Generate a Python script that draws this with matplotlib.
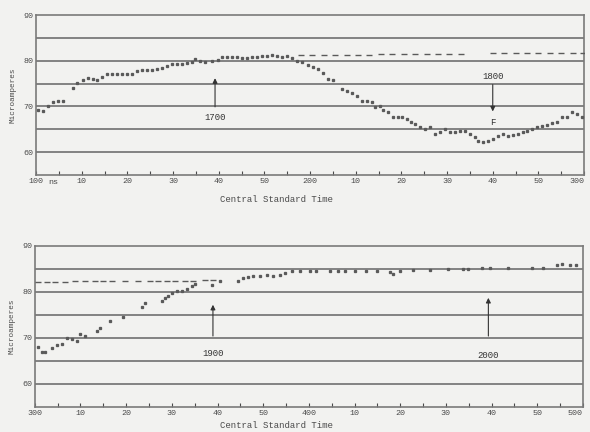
import matplotlib
matplotlib.use("Agg")
import matplotlib.pyplot as plt
from matplotlib.ticker import MultipleLocator

# ---------------- data ----------------
# minutes after the left-hand hour of each panel; values in microamperes
top_min = [0.4, 1.5, 2.6, 3.7, 4.8, 5.9, 8.1, 9.0, 10.3, 11.4, 12.5, 13.4, 14.5, 15.5,
           16.6, 17.7, 18.8, 19.9, 21.0, 22.1, 23.2, 24.3, 25.4, 26.5, 27.6, 28.7, 29.8,
           30.9, 32.0, 33.1, 34.2, 34.8, 35.9, 37.0, 38.5, 39.9, 40.7, 41.8, 42.9, 44.0,
           45.1, 46.2, 47.3, 48.4, 49.5, 50.6, 51.7, 52.8, 53.9, 55.0, 56.1, 57.1, 58.2,
           59.6, 60.7, 61.7, 62.8, 63.9, 65.0, 67.0, 68.1, 69.2, 70.3, 71.4, 72.5, 73.6,
           74.2, 75.3, 76.0, 77.1, 78.2, 79.3, 80.1, 81.2, 82.1, 83.0, 84.1, 85.2, 86.3,
           87.4, 88.5, 89.6, 90.7, 91.7, 92.8, 93.9, 95.0, 96.1, 96.8, 97.9, 99.0, 100.1,
           101.2, 102.3, 103.3, 104.4, 105.5, 106.6, 107.5, 108.6, 109.7, 110.8, 111.9,
           113.0, 114.1, 115.2, 116.3, 117.4, 118.5, 119.6]
top_val = [69.3, 68.9, 70.0, 70.9, 71.3, 71.3, 74.1, 75.2, 75.9, 76.3, 76.1, 75.9, 76.5, 77.0,
           77.2, 77.2, 77.2, 77.0, 77.0, 77.8, 78.0, 78.0, 78.0, 78.3, 78.5, 78.9, 79.3,
           79.3, 79.3, 79.6, 79.8, 80.4, 80.0, 79.8, 80.0, 80.2, 80.9, 80.9, 80.9, 80.9,
           80.6, 80.6, 80.9, 80.9, 81.1, 81.1, 81.3, 81.1, 80.9, 81.1, 80.6, 80.0, 79.8,
           79.1, 78.7, 78.3, 77.4, 76.1, 75.7, 73.9, 73.3, 73.0, 72.2, 71.1, 71.1, 70.9,
           69.8, 70.0, 69.3, 68.7, 67.8, 67.8, 67.6, 67.2, 66.7, 66.1, 65.4, 65.0, 65.4,
           63.9, 64.3, 65.0, 64.3, 64.3, 64.6, 64.6, 63.9, 63.3, 62.4, 62.2, 62.4, 62.8,
           63.5, 63.9, 63.5, 63.7, 63.9, 64.3, 64.6, 65.0, 65.4, 65.7, 65.9,
           66.3, 66.7, 67.6, 67.8, 68.7, 68.3, 67.8]

top_ref_min = [58.0, 60.5, 63.0, 65.5, 68.0, 70.5, 73.0, 75.5, 78.0, 80.5, 83.0, 85.5,
               88.0, 90.5, 93.0, 100.0, 102.5, 105.0, 107.5, 110.0, 112.5, 115.0, 117.5, 119.8]
top_ref_val = [81.2, 81.2, 81.2, 81.3, 81.3, 81.3, 81.3, 81.4, 81.4, 81.4, 81.4, 81.4,
               81.5, 81.5, 81.5, 81.6, 81.6, 81.6, 81.7, 81.7, 81.7, 81.7, 81.7, 81.7]

bot_min = [0.7, 1.5, 2.2, 3.7, 4.8, 5.9, 7.0, 8.1, 9.2, 9.9, 10.9, 13.6, 14.2, 16.4, 19.3,
           23.4, 24.1, 27.8, 28.5, 29.1, 30.0, 31.1, 32.2, 33.3, 34.4, 35.0, 38.8, 40.5,
           44.4, 45.5, 46.6, 47.7, 49.3, 50.8, 52.1, 53.6, 54.7, 56.3, 58.0, 60.2, 61.5,
           64.6, 66.3, 67.9, 70.0, 72.5, 75.0, 77.7, 78.4, 79.9, 82.8, 86.5, 90.4, 93.7,
           94.8, 97.9, 99.6, 103.6, 108.8, 111.2, 114.3, 115.4, 117.1, 118.5]
bot_val = [68.0, 67.0, 67.0, 67.8, 68.5, 68.7, 70.0, 69.8, 69.3, 70.9, 70.4, 71.5, 72.2, 73.7,
           74.6, 76.7, 77.6, 78.0, 78.7, 79.1, 79.8, 80.2, 80.2, 80.7, 81.3, 81.7, 81.5,
           82.4, 82.4, 83.0, 83.3, 83.5, 83.5, 83.7, 83.5, 83.7, 84.1, 84.6, 84.6, 84.6,
           84.6, 84.6, 84.6, 84.6, 84.5, 84.5, 84.5, 84.3, 83.9, 84.6, 84.8, 84.8, 85.0,
           85.0, 85.0, 85.2, 85.2, 85.2, 85.2, 85.2, 85.9, 86.1, 85.9, 85.9]

bot_ref_min = [0.7, 2.6, 4.4, 6.6, 8.8, 10.9, 13.1, 14.9, 16.8, 19.7, 22.6, 25.2, 26.9,
               28.9, 30.7, 32.8, 34.6, 37.2, 39.0]
bot_ref_val = [82.1, 82.2, 82.2, 82.2, 82.3, 82.3, 82.3, 82.3, 82.3, 82.3, 82.4, 82.4, 82.4,
               82.4, 82.4, 82.4, 82.4, 82.5, 82.5]

top_xlabels = ["100", "10", "20", "30", "40", "50", "200", "10", "20", "30", "40", "50", "300"]
bot_xlabels = ["300", "10", "20", "30", "40", "50", "400", "10", "20", "30", "40", "50", "500"]
y_ticks = [60, 70, 80, 90]
grid_levels = [60, 65, 70, 75, 80, 85]

# ---------------- style ----------------
BG = "#f2f2f0"
INK = "#4a4a4a"
DOT = "#5a5a5a"
GRID = "#7a7a7a"
MONO = ["Liberation Mono", "DejaVu Sans Mono"]
plt.rcParams["font.family"] = MONO

fig = plt.figure(figsize=(5.9, 4.32), dpi=100, facecolor=BG)
ax1 = fig.add_axes([0.061, 0.595, 0.929, 0.370])
ax2 = fig.add_axes([0.059, 0.058, 0.929, 0.373])


def style(ax, labels):
    ax.set_facecolor(BG)
    ax.set_xlim(0, 120)
    ax.set_ylim(55, 90)
    for lv in grid_levels:
        ax.axhline(lv, color=GRID, lw=1.3, zorder=1)
    for s in ax.spines.values():
        s.set_color(GRID)
        s.set_linewidth(1.2)
    ax.xaxis.set_minor_locator(MultipleLocator(5))
    ax.set_xticks(range(0, 121, 10))
    ax.set_xticklabels(labels)
    ax.tick_params(axis="x", which="both", direction="in", length=3, width=0.8,
                   color=INK, labelsize=6, labelcolor=INK, pad=2)
    ax.get_xticklabels()[-1].set_horizontalalignment("right")
    ax.get_xticklabels()[-1].set_x(119.5)
    ax.set_yticks(y_ticks)
    ax.tick_params(axis="y", length=0, labelsize=6, labelcolor=INK, pad=2)
    ax.set_ylabel("Microamperes", fontsize=5.5, color=INK, labelpad=5)


style(ax1, top_xlabels)
style(ax2, bot_xlabels)

mk = dict(ls="none", color=DOT, zorder=3)
ax1.plot(top_min, top_val, marker="s", ms=1.4, **mk)
ax1.plot(top_ref_min, top_ref_val, marker="_", ms=4, mew=1.0, **mk)
ax2.plot(bot_min, bot_val, marker="s", ms=1.4, **mk)
ax2.plot(bot_ref_min, bot_ref_val, marker="_", ms=4, mew=1.0, **mk)

arrow = dict(arrowstyle="-|>", color="#333333", lw=0.8, mutation_scale=7)
txt = dict(ha="center", va="center", fontsize=6.5, color="#333333")

ax1.annotate("", xy=(39.2, 76.8), xytext=(39.2, 69.3), arrowprops=arrow)
ax1.text(39.2, 67.6, "1700", **txt)
ax1.annotate("", xy=(100.0, 68.3), xytext=(100.0, 75.4), arrowprops=arrow)
ax1.text(100.0, 76.6, "1800", **txt)
ax1.text(100.0, 66.5, "F", **txt)

ax2.annotate("", xy=(39.0, 77.8), xytext=(39.0, 69.8), arrowprops=arrow)
ax2.text(39.0, 66.5, "1900", **txt)
ax2.annotate("", xy=(99.3, 79.3), xytext=(99.3, 69.8), arrowprops=arrow)
ax2.text(99.3, 66.1, "2000", **txt)

ax1.text(3.8, 53.3, "ns", ha="center", va="center", fontsize=6, color=INK, clip_on=False)

fig.text(276 / 590, 1 - 199 / 432, "Central Standard Time", ha="center", va="center",
         fontsize=6.5, color=INK)
fig.text(276 / 590, 1 - 425 / 432, "Central Standard Time", ha="center", va="center",
         fontsize=6.5, color=INK)

fig.savefig("out.png", dpi=100, facecolor=BG)
